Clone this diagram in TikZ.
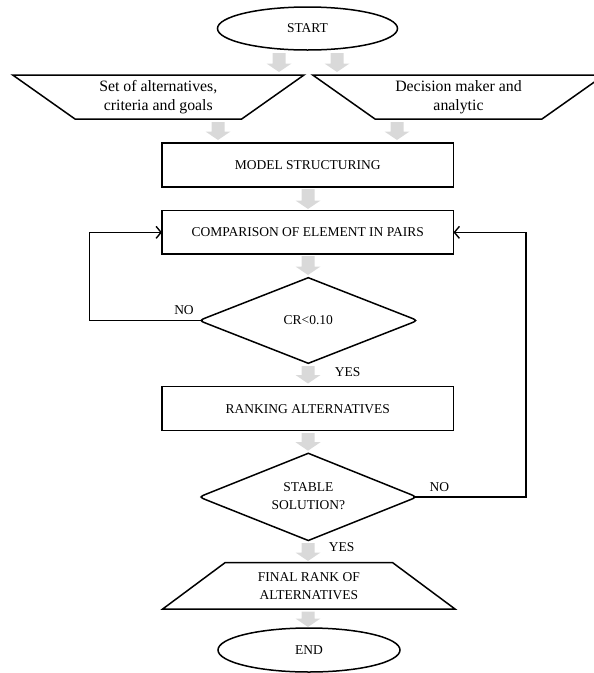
\documentclass[tikz,border=0pt]{standalone}
\usepackage{fontspec}
\setmainfont{Liberation Serif}
\usetikzlibrary{arrows.meta,shapes.geometric,calc}
\definecolor{arrowgray}{HTML}{D9D9D9}
\newcommand\grayarrow[3]{%
  \fill[garrow] (#1-6.5,#2) -- (#1+6.5,#2) -- (#1+6.5,#3-8.5) -- (#1+12.5,#3-8.5)
    -- (#1,#3) -- (#1-12.5,#3-8.5) -- (#1-6.5,#3-8.5) -- cycle;}
\begin{document}
\begin{tikzpicture}[x=1pt,y=-1pt,
  every node/.style={inner sep=0pt, outer sep=0pt},
  outline/.style={draw=black, line width=1.5pt},
  capstext/.style={font=\fontsize{13.5}{18}\selectfont, align=center},
  lowtext/.style={font=\fontsize{15.8}{19}\selectfont, align=center},
  procbox/.style={outline, rectangle, minimum width=291.5pt, minimum height=44pt, capstext},
  terminal/.style={outline, ellipse, minimum width=180pt, minimum height=43pt, capstext},
  loopline/.style={line width=1.6pt, -{Straight Barb[length=5pt,width=12pt,line width=1.4pt]}},
  lbl/.style={capstext},
  garrow/.style={fill=arrowgray, draw=none}
]
\useasboundingbox (0,0) rectangle (594,673);
\clip (0,0) rectangle (594,673);

% terminals
\node[terminal] (start) at (307.5,28.5) {START};
\node[terminal, minimum width=182pt, minimum height=44pt] (end) at (309,650) {END};

% input trapezoids
\coordinate (a1) at (12.7,75);  \coordinate (a2) at (304,75);
\coordinate (a3) at (241.7,119); \coordinate (a4) at (75,119);
\draw[outline, line join=miter] (a1) -- (a2) -- (a3) -- (a4) -- cycle;
\node[lowtext] (alt) at (158.3,97.5) {Set of alternatives,\\criteria and goals};

\coordinate (b1) at (312.7,75);  \coordinate (b2) at (604.3,75);
\coordinate (b3) at (542,119);   \coordinate (b4) at (375,119);
\draw[outline, line join=miter] (b1) -- (b2) -- (b3) -- (b4) -- cycle;
\node[lowtext] (dm) at (458.5,97.5) {Decision maker and\\analytic};

% process boxes
\node[procbox] (model) at (307.75,165) {MODEL STRUCTURING};
\node[procbox, minimum height=43.3pt] (comp) at (307.75,232.35) {COMPARISON OF ELEMENT IN PAIRS};
\node[procbox] (rank) at (307.75,408.7) {RANKING ALTERNATIVES};

% decision 1
\node[capstext] (cr) at (308.3,320.5) {CR<0.10};
\coordinate (d1t) at (308.3,277.7); \coordinate (d1b) at (308.3,363.3);
\coordinate (d1l) at (199,320.5);   \coordinate (d1r) at (417.7,320.5);
\draw[outline] (d1t) -- ($(d1r)!9pt!(d1t)$) .. controls (d1r) .. ($(d1r)!9pt!(d1b)$)
  -- (d1b) -- ($(d1l)!9pt!(d1b)$) .. controls (d1l) .. ($(d1l)!9pt!(d1t)$) -- cycle;
\coordinate (d1tipl) at (202.7,320.5);

% decision 2
\node[capstext] (stable) at (308.3,496) {STABLE\\SOLUTION?};
\coordinate (d2t) at (308.3,453.3); \coordinate (d2b) at (308.3,540.5);
\coordinate (d2l) at (199,497);     \coordinate (d2r) at (417,497);
\draw[outline] (d2t) -- ($(d2r)!9pt!(d2t)$) .. controls (d2r) .. ($(d2r)!9pt!(d2b)$)
  -- (d2b) -- ($(d2l)!9pt!(d2b)$) .. controls (d2l) .. ($(d2l)!9pt!(d2t)$) -- cycle;
\coordinate (d2tipr) at (413.3,497);

% final output trapezoid
\coordinate (f1) at (225,562.7);  \coordinate (f2) at (392.7,562.7);
\coordinate (f3) at (455,609);    \coordinate (f4) at (162.7,609);
\draw[outline, line join=miter] (f1) -- (f2) -- (f3) -- (f4) -- cycle;
\node[capstext] (final) at (308.8,586) {FINAL RANK OF\\ALTERNATIVES};

% gray flow arrows
\grayarrow{279}{53}{72}
\grayarrow{337}{53}{72}
\grayarrow{218}{122}{140}
\grayarrow{397}{122}{140}
\grayarrow{308}{189}{209}
\grayarrow{308}{256}{275}
\grayarrow{308}{366}{383.5}
\grayarrow{308}{433}{450.7}
\grayarrow{308}{543}{561}
\grayarrow{308}{611.7}{627}

% feedback loops
\coordinate (lx) at (89.3,0);
\coordinate (rx) at (526,0);
\draw[loopline] (d1tipl) -- (d1tipl -| lx) |- (comp.west);
\draw[loopline] (d2tipr) -- (d2tipr -| rx) |- (comp.east);

% labels
\node[lbl] (no1) at (184,310) {NO};
\node[lbl] (yes1) at (347.7,371.7) {YES};
\node[lbl] (no2) at (439.3,486.7) {NO};
\node[lbl] (yes2) at (341.7,546.7) {YES};
\end{tikzpicture}
\end{document}
